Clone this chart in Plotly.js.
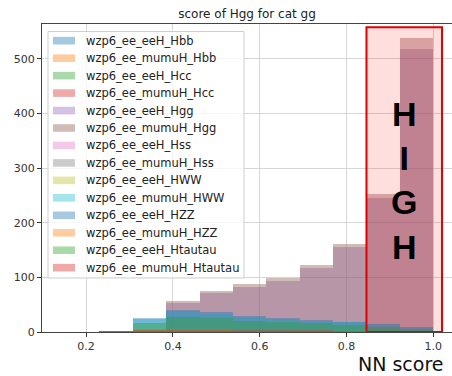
<!DOCTYPE html>
<html>
<head>
<meta charset="utf-8">
<script src="https://cdn.plot.ly/plotly-3.0.1.min.js"></script>
<style>html,body{margin:0;padding:0;overflow:hidden;background:#fff;}</style>
</head>
<body>
<div id="chart" style="width:452px;height:376px;"></div>
<script>
// 13 bins on [0,1]
const binCenters = [0.0385, 0.1154, 0.1923, 0.2692, 0.3462, 0.4231, 0.5000, 0.5769, 0.6538, 0.7308, 0.8077, 0.8846, 0.9615];
const binWidth = 0.0769;

const seriesNames = [
  "wzp6_ee_eeH_Hbb", "wzp6_ee_mumuH_Hbb", "wzp6_ee_eeH_Hcc", "wzp6_ee_mumuH_Hcc",
  "wzp6_ee_eeH_Hgg", "wzp6_ee_mumuH_Hgg", "wzp6_ee_eeH_Hss", "wzp6_ee_mumuH_Hss",
  "wzp6_ee_eeH_HWW", "wzp6_ee_mumuH_HWW", "wzp6_ee_eeH_HZZ", "wzp6_ee_mumuH_HZZ",
  "wzp6_ee_eeH_Htautau", "wzp6_ee_mumuH_Htautau"
];

const eeH_Hbb       = [0,0,0,0,1,1,1,1,1,0,0,0,0];
const mumuH_Hbb     = [0,0,0,0,0,1,0,1,0,0,0,0,0];
const eeH_Hcc       = [0,0,0,0,1,1,1,1,1,1,0,0,0];
const mumuH_Hcc     = [0,0,0,0,0,1,1,0,1,0,0,0,0];
const eeH_Hgg       = [0,0,0,0,0,53,72,82,94,117,155,245,518];
const mumuH_Hgg     = [0,0,0,0,0,57,76,87,99,123,162,253,538];
const eeH_Hss       = [0,0,0,0,1,1,1,1,0,0,0,0,0];
const mumuH_Hss     = [0,0,0,0,0,1,0,1,0,0,0,0,0];
const eeH_HWW       = [0,0,0,1,4,5,5,4,4,3,3,2,1];
const mumuH_HWW     = [0,0,0,1,24,38,33,28,24,21,18,14,9];
const eeH_HZZ       = [0,0,0,1,26,41,36,30,26,22,19,15,10];
const mumuH_HZZ     = [0,0,0,2,3,3,3,2,2,2,1,1,1];
const eeH_Htautau   = [0,0,0,1,17,28,25,21,18,16,13,10,6];
const mumuH_Htautau = [0,0,0,1,3,4,4,3,3,3,2,2,1];

const seriesValues = [eeH_Hbb, mumuH_Hbb, eeH_Hcc, mumuH_Hcc, eeH_Hgg, mumuH_Hgg,
  eeH_Hss, mumuH_Hss, eeH_HWW, mumuH_HWW, eeH_HZZ, mumuH_HZZ, eeH_Htautau, mumuH_Htautau];

const tab10 = ["31,119,180","255,127,14","44,160,44","214,39,40","148,103,189",
               "140,86,75","227,119,194","127,127,127","188,189,34","23,190,207"];

const xTicks = [0.2, 0.4, 0.6, 0.8, 1.0];
const yTicks = [0, 100, 200, 300, 400, 500];

const colorOf = i => 'rgba(' + tab10[i % 10] + ',0.4)';

const traces = seriesNames.map((name, i) => ({
  type: 'bar',
  name: name,
  x: binCenters,
  y: seriesValues[i],
  width: binWidth,
  marker: {color: colorOf(i), line: {width: 0}},
  hoverinfo: 'skip',
  showlegend: false
}));

const font = "DejaVu Sans, sans-serif";

// plot area in pixels: left 42, right 452, top 24, bottom 332
const PL = 42, PW = 410, PT = 24, PH = 308;
const px = v => (v - PL) / PW;
const py = v => (PT + PH - v) / PH;

const shapes = [];
const annotations = [];

// legend box
shapes.push({type: 'rect', xref: 'paper', yref: 'paper', layer: 'above',
  x0: px(48), x1: px(244), y0: py(278), y1: py(31.5),
  fillcolor: 'rgba(255,255,255,0.8)', line: {color: '#cfcfcf', width: 1}});
seriesNames.forEach((name, i) => {
  const cy = 40.7 + i * 17.46;
  shapes.push({type: 'rect', xref: 'paper', yref: 'paper', layer: 'above',
    x0: px(53), x1: px(75), y0: py(cy + 3.8), y1: py(cy - 3.8),
    fillcolor: colorOf(i), line: {width: 0}});
  annotations.push({xref: 'paper', yref: 'paper', x: px(84), y: py(cy), text: name,
    showarrow: false, xanchor: 'left', yanchor: 'middle',
    font: {family: font, size: 11.5, color: '#222'}});
});

// highlighted region
shapes.push({type: 'rect', xref: 'x', yref: 'y', x0: 0.846, x1: 1.02, y0: 0, y1: 558,
  fillcolor: 'rgba(255,0,0,0.13)', line: {color: '#e00000', width: 2}, layer: 'above'});

annotations.push({xref: 'x', yref: 'y', x: 0.933, y: 277, text: '<b>H<br>I<br>G<br>H</b>',
  showarrow: false, font: {family: 'Liberation Sans, Arial, sans-serif', size: 34, color: '#000'},
  xanchor: 'center', yanchor: 'middle', align: 'center'});
annotations.push({xref: 'paper', yref: 'paper', x: px(445), y: py(376), text: 'NN score',
  showarrow: false, xanchor: 'right', yanchor: 'bottom', borderpad: 0,
  font: {family: font, size: 19, color: '#111'}});

const layout = {
  width: 452, height: 376,
  margin: {l: 42, r: 0, t: 24, b: 44, pad: 0},
  paper_bgcolor: '#fff', plot_bgcolor: '#fff',
  barmode: 'overlay', bargap: 0,
  showlegend: false,
  title: {text: 'score of Hgg for cat gg', font: {family: font, size: 12, color: '#222'},
          x: 0.5, xref: 'paper', xanchor: 'center', y: 0.963, yref: 'container', yanchor: 'middle'},
  xaxis: {
    range: [0.0985, 1.043], tickvals: xTicks, tickformat: '.1f',
    ticks: 'outside', ticklen: 4, tickcolor: '#333', tickwidth: 1,
    showline: true, linecolor: '#444', linewidth: 1, mirror: true,
    showgrid: true, gridcolor: '#d6d6d6', gridwidth: 1, zeroline: false,
    tickfont: {family: font, size: 11, color: '#333'}
  },
  yaxis: {
    range: [0, 564], tickvals: yTicks,
    ticks: 'outside', ticklen: 4, tickcolor: '#333', tickwidth: 1,
    showline: true, linecolor: '#444', linewidth: 1, mirror: false,
    showgrid: true, gridcolor: '#d6d6d6', gridwidth: 1, zeroline: false,
    tickfont: {family: font, size: 11, color: '#333'}
  },
  shapes: shapes,
  annotations: annotations
};

Plotly.newPlot('chart', traces, layout, {displayModeBar: false, staticPlot: true});
</script>
</body>
</html>
